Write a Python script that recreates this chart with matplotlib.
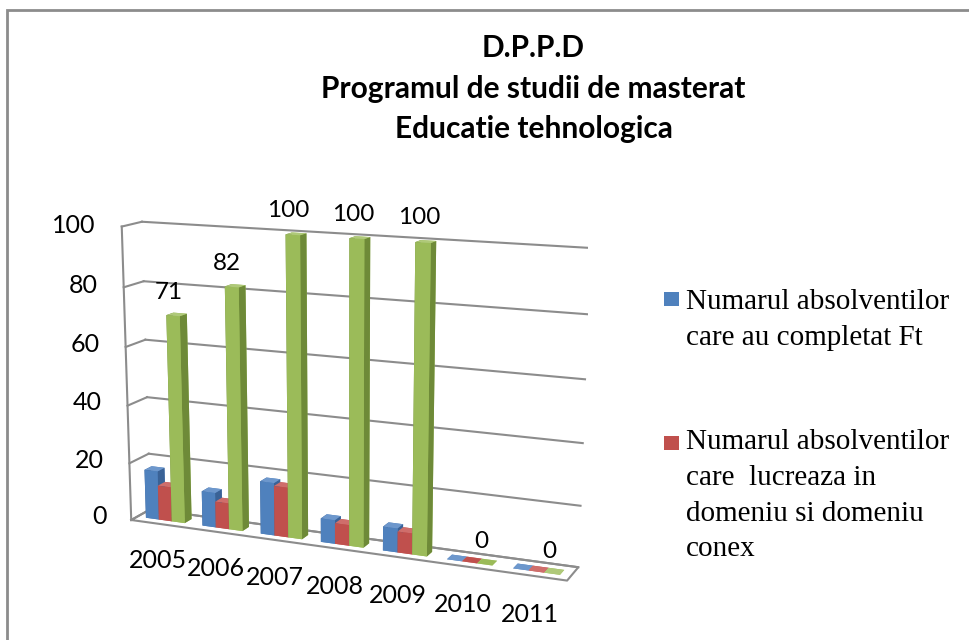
import matplotlib
matplotlib.use('Agg')
import matplotlib.pyplot as plt
import numpy as np
from matplotlib.patches import Rectangle
from mpl_toolkits.mplot3d import proj3d

years = ['2005', '2006', '2007', '2008', '2009', '2010', '2011']
completat = [17, 12, 18, 8, 8, 0, 0]
lucreaza = [12, 9, 17, 7, 7, 0, 0]
procent = [71, 82, 100, 100, 100, 0, 0]
series_names = ['Numarul absolventilor\ncare au completat Ft',
                'Numarul absolventilor\ncare  lucreaza in\ndomeniu si domeniu\nconex']
zticks = [0, 20, 40, 60, 80, 100]
title = 'D.P.P.D\nProgramul de studii de masterat\nEducatie tehnologica'

# (front, side, top) shades
pal = [('#4F81BD', '#3A6296', '#6D97CC'),
       ('#C0504D', '#943C3A', '#CF6E6B'),
       ('#9BBB59', '#6E8A38', '#AFC979')]

W, H = 970, 640
fig = plt.figure(figsize=(W / 100, H / 100), dpi=100)
fig.patches.append(Rectangle((7 / W, -0.1), 1.2, 1 - 10 / H + 0.1, transform=fig.transFigure,
                             fill=False, edgecolor='#8C8C8C', linewidth=2))

ax = fig.add_axes([0.0487, -0.0148, 0.60, 0.78], projection='3d', proj_type='persp',
                  focal_length=0.6)
ax.set_axis_off()
ax.set_xticks([]); ax.set_yticks([]); ax.set_zticks([])
ax.view_init(elev=13.5, azim=-67)
ncat = len(years)
D = 0.6
ax.set_xlim(0, ncat)
ax.set_ylim(0, D)
ax.set_zlim(0, 100)
ax.set_box_aspect((ncat, D, 4.6), zoom=1.116)

bw = 0.23
bd = 0.222
gap = (1 - 3 * bw) / 2
xs, ys, dzs, cols = [], [], [], []
for s, vals in enumerate([completat, lucreaza, procent]):
    f, sd, tp = pal[s]
    for i, v in enumerate(vals):
        xs.append(i + gap + s * bw)
        ys.append((D - bd) / 2)
        dzs.append(v)
        # faces: -z, +z, -y, +y, -x, +x
        cols.extend([f, tp, f, f, sd, sd])
n = len(xs)
ax.bar3d(xs, ys, np.zeros(n), bw, bd, dzs, color=cols, shade=False,
         edgecolor='none', linewidth=0)

gc = '#8C8C8C'
for z in zticks:
    ax.plot([0, ncat], [D, D], [z, z], color=gc, lw=1.5, zorder=0)
    ax.plot([0, 0], [0, D], [z, z], color=gc, lw=1.5, zorder=0)
ax.plot([0, 0], [0, 0], [0, 100], color=gc, lw=1.5)
# floor outline
ax.plot([0, ncat, ncat, 0, 0], [0, 0, D, D, 0], [0, 0, 0, 0, 0], color=gc, lw=1.5)

# project 3D anchor points to figure coordinates with the axes' own projection
fig.canvas.draw()


def to_fig(x, y, z):
    px, py, _ = proj3d.proj_transform(x, y, z, ax.get_proj())
    disp = ax.transData.transform((px, py))
    return fig.transFigure.inverted().transform(disp)


for z in zticks:
    fx, fy = to_fig(-0.45, 0, z)
    fig.text(fx, fy, str(z), ha='right', va='center', fontsize=18, family='Lato')
for i, y in enumerate(years):
    fx, fy = to_fig(i + 0.47, 0, -9)
    fig.text(fx, fy, y, ha='center', va='top', fontsize=18, family='Lato')
for i, v in enumerate(procent):
    fx, fy = to_fig(i + gap + 2.4 * bw, 0.1, v + 4.5)
    fig.text(fx, fy, str(v), ha='center', va='bottom', fontsize=17.5, family='Lato')

fig.text(0.55, 0.947, title, ha='center', va='top', fontsize=21.5, fontweight='bold',
         family='Lato', linespacing=1.55)

# legend (only the first two series, as in the reference)
handle_top = [292, 436]
text_top = [289, 429]
for k, name in enumerate(series_names):
    fig.patches.append(Rectangle((664 / W, 1 - (handle_top[k] + 14) / H), 15 / W, 14 / H,
                                 transform=fig.transFigure, facecolor=pal[k][0], edgecolor='none'))
    fig.text(686 / W, 1 - text_top[k] / H, name, ha='left', va='top', fontsize=21,
             family='Liberation Serif', linespacing=1.49)

fig.savefig('out.png', dpi=100)
